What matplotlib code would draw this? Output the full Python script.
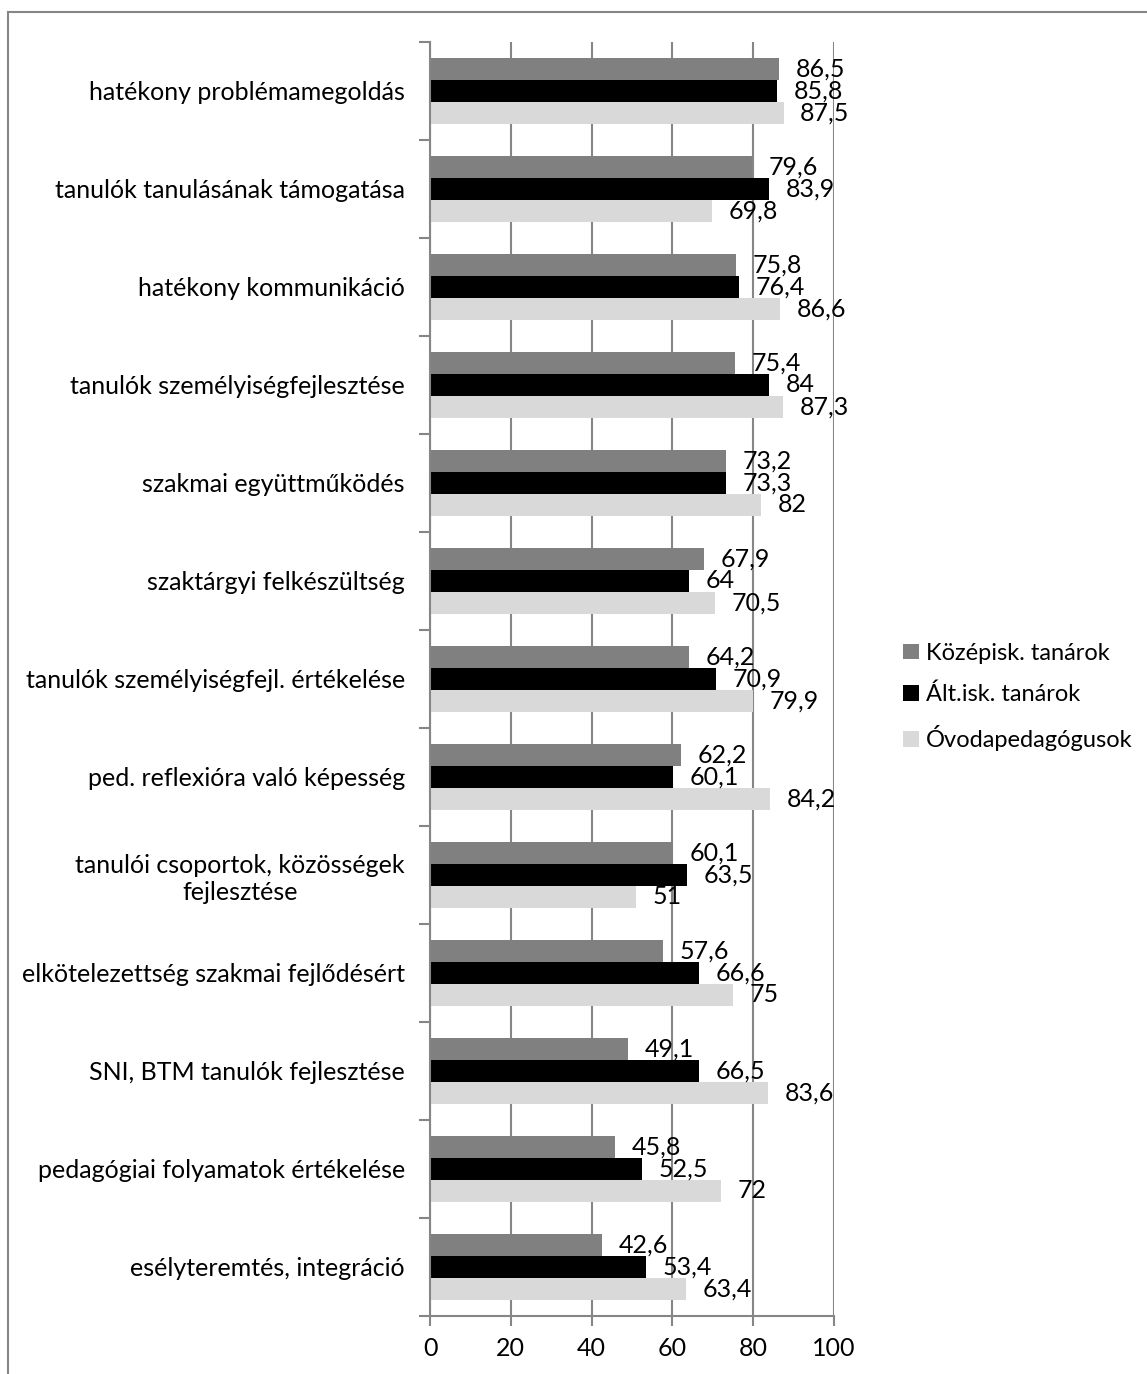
import matplotlib
matplotlib.use("Agg")
import matplotlib.pyplot as plt
from matplotlib.lines import Line2D
import numpy as np

plt.rcParams['font.family'] = ['Lato', 'DejaVu Sans']

categories = [
    "hatékony problémamegoldás",
    "tanulók tanulásának támogatása",
    "hatékony kommunikáció",
    "tanulók személyiségfejlesztése",
    "szakmai együttműködés",
    "szaktárgyi felkészültség",
    "tanulók személyiségfejl. értékelése",
    "ped. reflexióra való képesség",
    "tanulói csoportok, közösségek\nfejlesztése",
    "elkötelezettség szakmai fejlődésért",
    "SNI, BTM tanulók fejlesztése",
    "pedagógiai folyamatok értékelése",
    "esélyteremtés, integráció",
]
kozepisk = [86.5, 79.6, 75.8, 75.4, 73.2, 67.9, 64.2, 62.2, 60.1, 57.6, 49.1, 45.8, 42.6]
altisk = [85.8, 83.9, 76.4, 84, 73.3, 64, 70.9, 60.1, 63.5, 66.6, 66.5, 52.5, 53.4]
ovoda = [87.5, 69.8, 86.6, 87.3, 82, 70.5, 79.9, 84.2, 51, 75, 83.6, 72, 63.4]
series_names = ["Középisk. tanárok", "Ált.isk. tanárok", "Óvodapedagógusok"]
x_ticks = [0, 20, 40, 60, 80, 100]

colors = ["#808080", "#000000", "#d9d9d9"]
axis_gray = "#868686"
fs = 18

W, H = 1147, 1374
fig = plt.figure(figsize=(W / 100, H / 100), dpi=100)
ax = fig.add_axes([430 / W, 1 - 1316 / H, (834 - 430) / W, (1316 - 42) / H])

n = len(categories)
centers = np.arange(n)
bar_h = 1 / 4.5
series = [kozepisk, altisk, ovoda]
offsets = [-bar_h, 0, bar_h]

def fmt(v):
    s = f"{v:.1f}".replace(".", ",")
    return s[:-2] if s.endswith(",0") else s

for vals, off, col, name in zip(series, offsets, colors, series_names):
    ys = centers + off
    ax.barh(ys, vals, height=bar_h, color=col, label=name, zorder=2)
    for y, v in zip(ys, vals):
        ax.annotate(fmt(v), (v, y), xytext=(12, 0), textcoords="offset points",
                    ha="left", va="center", fontsize=fs, color="black", zorder=5)

ax.set_ylim(n - 0.5, -0.5)
ax.set_xlim(0, 100)
ax.set_xticks(x_ticks)
ax.set_xticklabels([str(t) for t in x_ticks], fontsize=fs)
ax.xaxis.grid(True, color=axis_gray, linewidth=1.5, zorder=0)
ax.set_axisbelow(True)

ax.set_yticks(centers)
ax.set_yticklabels(categories, fontsize=fs, multialignment="center")
ax.set_yticks(np.arange(n + 1) - 0.5, minor=True)
ax.tick_params(axis="y", which="major", length=0, pad=18)
ax.tick_params(axis="y", which="minor", length=8, width=1.5, color=axis_gray)
ax.tick_params(axis="x", length=7, width=1.5, color=axis_gray, pad=8)

for side in ["top", "right"]:
    ax.spines[side].set_visible(False)
for side in ["left", "bottom"]:
    ax.spines[side].set_color(axis_gray)
    ax.spines[side].set_linewidth(1.5)

leg = fig.legend(loc="center left", bbox_to_anchor=(894 / W, 1 - 697 / H),
                 frameon=False, fontsize=17, handlelength=0.65, handleheight=0.65,
                 handletextpad=0.3, labelspacing=0.85, borderaxespad=0)

# chart-area frame (top and left edges)
fig.add_artist(Line2D([8 / W, 8 / W], [0, 1 - 12 / H], transform=fig.transFigure,
                      color=axis_gray, linewidth=1.5))
fig.add_artist(Line2D([8 / W, 1], [1 - 12 / H, 1 - 12 / H], transform=fig.transFigure,
                      color=axis_gray, linewidth=1.5))

fig.savefig("out.png", dpi=100, facecolor="white")
